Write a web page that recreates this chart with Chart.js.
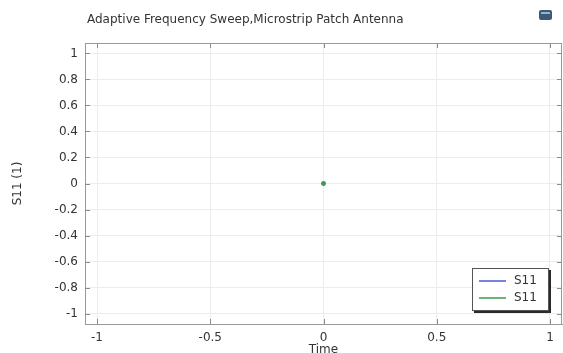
<!DOCTYPE html>
<html>
<head>
<meta charset="utf-8">
<script src="https://cdn.jsdelivr.net/npm/chart.js@4/dist/chart.umd.min.js"></script>
<style>
  html, body { margin: 0; padding: 0; background: #fff; }
</style>
</head>
<body>
<canvas id="sweepChart" width="563" height="353"></canvas>
<script>
// data
const timeValues = [0];
const s11Blue = [0];
const s11Green = [0];
const seriesLabels = ["S11", "S11"];
const xTicks = [-1, -0.5, 0, 0.5, 1];
const yTicks = [1, 0.8, 0.6, 0.4, 0.2, 0, -0.2, -0.4, -0.6, -0.8, -1];
const chartTitle = "Adaptive Frequency Sweep,Microstrip Patch Antenna";

const FONT = "'DejaVu Sans', sans-serif";
const toPoints = (ys) => ys.map((y, i) => ({ x: timeValues[i], y: y }));

// plot frame runs to the right edge of the canvas (no label overhang)
const stretchRight = {
  id: "stretchRight",
  afterLayout(chart) {
    const a = chart.chartArea;
    const xs = chart.scales.x;
    a.right = chart.width - 1;
    a.width = a.right - a.left;
    xs.right = a.right;
    xs.width = xs.right - xs.left;
    xs.configure();
  }
};

// title, inner tick marks on all four frame sides, the little window icon
const frameDeco = {
  id: "frameDeco",
  afterDraw(chart) {
    const { ctx, chartArea: a, scales } = chart;
    ctx.save();
    ctx.strokeStyle = "#8a8a8a";
    ctx.lineWidth = 1;
    ctx.beginPath();
    xTicks.forEach(v => {
      const px = Math.round(scales.x.getPixelForValue(v)) + 0.5;
      ctx.moveTo(px, a.top); ctx.lineTo(px, a.top + 5);
      ctx.moveTo(px, a.bottom); ctx.lineTo(px, a.bottom - 5);
    });
    yTicks.forEach(v => {
      const py = Math.round(scales.y.getPixelForValue(v)) + 0.5;
      ctx.moveTo(a.left, py); ctx.lineTo(a.left + 5, py);
      ctx.moveTo(a.right, py); ctx.lineTo(a.right - 5, py);
    });
    ctx.stroke();

    // frame top and right
    ctx.strokeStyle = "#999";
    ctx.beginPath();
    ctx.moveTo(a.left, Math.round(a.top) + 0.5);
    ctx.lineTo(a.right, Math.round(a.top) + 0.5);
    ctx.moveTo(Math.round(a.right) - 0.5, a.top);
    ctx.lineTo(Math.round(a.right) - 0.5, a.bottom);
    ctx.stroke();

    ctx.fillStyle = "#333";
    ctx.font = "12px " + FONT;
    ctx.textBaseline = "middle";
    ctx.fillText(chartTitle, 87, 20);

    // icon top-right
    ctx.fillStyle = "#3c5a78";
    ctx.beginPath();
    ctx.roundRect(539, 10, 13, 10, 2);
    ctx.fill();
    ctx.fillStyle = "#8fb4d0";
    ctx.fillRect(541, 12, 9, 2);
    ctx.restore();
  }
};

// boxed legend inside the plot, lower right, with drop shadow
const boxLegend = {
  id: "boxLegend",
  afterDatasetsDraw(chart) {
    const { ctx, chartArea: a } = chart;
    const w = 77, h = 43;
    const x = 472, y = a.bottom - 56;
    ctx.save();
    ctx.fillStyle = "#2a2a2a";
    ctx.fillRect(x + 2, y + 2, w, h);
    ctx.fillStyle = "#fff";
    ctx.fillRect(x, y, w, h);
    ctx.strokeStyle = "#555";
    ctx.lineWidth = 1;
    ctx.strokeRect(x + 0.5, y + 0.5, w - 1, h - 1);
    ctx.font = "12px " + FONT;
    ctx.textBaseline = "middle";
    chart.data.datasets.forEach((ds, i) => {
      const ry = y + 13 + i * 17;
      ctx.strokeStyle = ds.borderColor;
      ctx.lineWidth = 1.5;
      ctx.beginPath();
      ctx.moveTo(x + 7, ry); ctx.lineTo(x + 34, ry);
      ctx.stroke();
      ctx.fillStyle = "#333";
      ctx.fillText(ds.label, x + 42, ry);
    });
    ctx.restore();
  }
};

const tickFont = { family: FONT, size: 12 };

new Chart(document.getElementById("sweepChart"), {
  type: "scatter",
  data: {
    datasets: [
      {
        label: seriesLabels[0],
        data: toPoints(s11Blue),
        borderColor: "#4b5bd0",
        backgroundColor: "#4b5bd0",
        showLine: true,
        pointRadius: 1.5,
        borderWidth: 1.5,
        order: 1
      },
      {
        label: seriesLabels[1],
        data: toPoints(s11Green),
        borderColor: "#3e9a50",
        backgroundColor: "#3e9a50",
        showLine: true,
        pointRadius: 1.5,
        borderWidth: 1.5,
        order: 0
      }
    ]
  },
  options: {
    responsive: false,
    animation: false,
    layout: { padding: { left: 0, right: 0, top: 43, bottom: 0 } },
    plugins: {
      legend: { display: false },
      tooltip: { enabled: false },
      title: { display: false }
    },
    scales: {
      x: {
        type: "linear",
        min: -1.053,
        max: 1.053,
        afterBuildTicks: (s) => { s.ticks = xTicks.map(v => ({ value: v })); },
        afterFit: (s) => { s.height = 29; },
        ticks: {
          color: "#333", font: tickFont, padding: 7, maxRotation: 0, autoSkip: false,
          callback: (v) => String(v)
        },
        grid: { color: "#ececec", drawTicks: false },
        border: { color: "#999" },
        title: {
          display: true,
          text: "Time",
          color: "#333",
          font: tickFont,
          padding: { top: 0, bottom: -4 }
        }
      },
      y: {
        type: "linear",
        min: -1.08,
        max: 1.08,
        afterBuildTicks: (s) => { s.ticks = yTicks.map(v => ({ value: v })); },
        afterFit: (s) => { s.width = 85; },
        ticks: {
          color: "#333", font: tickFont, padding: 7, autoSkip: false,
          callback: (v) => String(v)
        },
        grid: { color: "#ececec", drawTicks: false },
        border: { color: "#999" },
        title: {
          display: true,
          text: "S11 (1)",
          color: "#333",
          font: tickFont,
          padding: { top: 11, bottom: 0 }
        }
      }
    }
  },
  plugins: [stretchRight, frameDeco, boxLegend]
});
</script>
</body>
</html>
